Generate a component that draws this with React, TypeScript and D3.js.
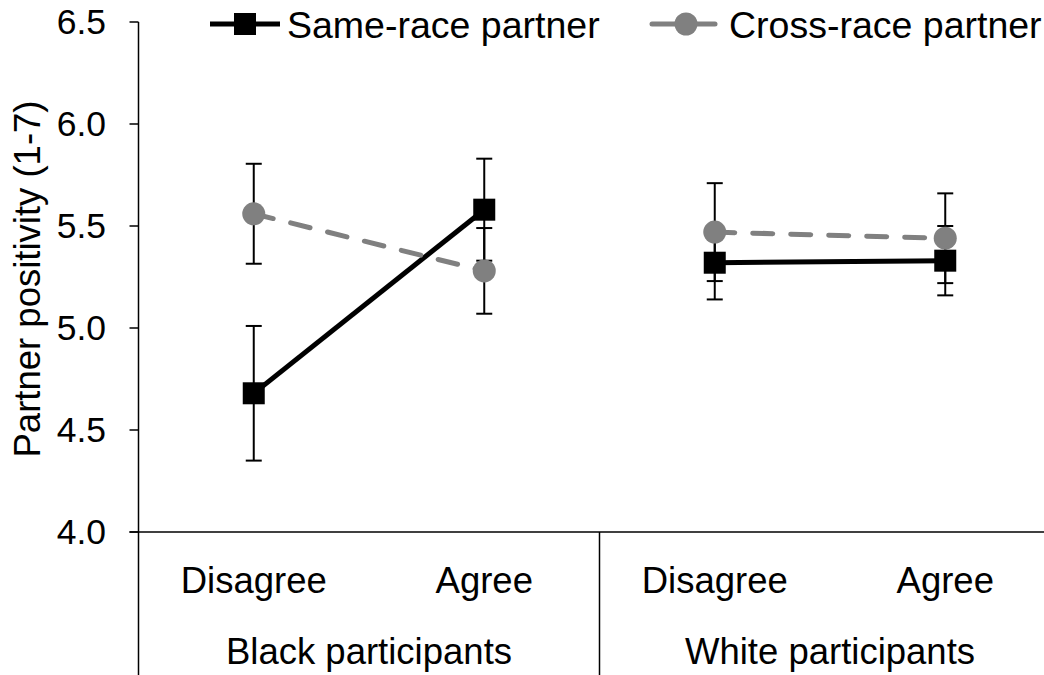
import React from "react";
import * as d3 from "d3";

const categories = ["Disagree", "Agree", "Disagree", "Agree"];
const groups = ["Black participants", "White participants"];
const sameRace = [4.68, 5.58, 5.32, 5.33];
const sameRaceErr = [0.33, 0.25, 0.18, 0.17];
const crossRace = [5.56, 5.28, 5.47, 5.44];
const crossRaceErr = [0.245, 0.21, 0.24, 0.22];
const yTicks = [4.0, 4.5, 5.0, 5.5, 6.0, 6.5];

const W = 1044;
const H = 675;
const FONT = "Liberation Sans, Arial, sans-serif";

export default function App() {
  const axisX = 138.5;
  const band = 230.5;
  const y = d3.scaleLinear().domain([4, 6.5]).range([532, 22]);
  const x = d3
    .scaleBand<number>()
    .domain(categories.map((_, i) => i))
    .range([axisX, axisX + band * categories.length])
    .padding(0);
  const cx = (i: number) => (x(i) as number) + x.bandwidth() / 2;

  const seg = (vals: number[], g: number) => {
    const idx = [g * 2, g * 2 + 1];
    return d3
      .line<number>()
      .x((i) => cx(i))
      .y((i) => y(vals[i]))(idx) as string;
  };

  const errBars = (vals: number[], errs: number[], key: string) =>
    vals.map((v, i) => (
      <g key={key + i} stroke="#000" strokeWidth={2}>
        <line x1={cx(i)} x2={cx(i)} y1={y(v + errs[i])} y2={y(v - errs[i])} />
        <line x1={cx(i) - 8} x2={cx(i) + 8} y1={y(v + errs[i])} y2={y(v + errs[i])} />
        <line x1={cx(i) - 8} x2={cx(i) + 8} y1={y(v - errs[i])} y2={y(v - errs[i])} />
      </g>
    ));

  const gray = "#808080";
  const sq = 22;

  return (
    <svg
      width={W}
      height={H}
      style={{ position: "absolute", left: 0, top: 0, background: "#fff" }}
      fontFamily={FONT}
    >
      {/* y axis */}
      <line x1={axisX} x2={axisX} y1={y(6.5)} y2={H} stroke="#000" strokeWidth={1.5} />
      {yTicks.map((t) => (
        <g key={t}>
          <line x1={axisX - 9} x2={axisX} y1={y(t)} y2={y(t)} stroke="#000" strokeWidth={1.5} />
          <text
            x={106}
            y={y(t)}
            textAnchor="end"
            dominantBaseline="central"
            fontSize={35.5}
            fill="#000"
          >
            {t.toFixed(1)}
          </text>
        </g>
      ))}
      {/* x axis */}
      <line x1={axisX - 9} x2={W} y1={y(4)} y2={y(4)} stroke="#000" strokeWidth={1.5} />
      {groups.map((g, gi) => {
        const x0 = x(gi * 2) as number;
        const x1 = (x(gi * 2 + 1) as number) + x.bandwidth();
        return (
          <g key={g}>
            {gi > 0 && (
              <line x1={x0} x2={x0} y1={y(4)} y2={H} stroke="#000" strokeWidth={1.5} />
            )}
            <text x={(x0 + x1) / 2} y={664} textAnchor="middle" fontSize={36.5} fill="#000">
              {g}
            </text>
          </g>
        );
      })}
      {categories.map((c, i) => (
        <text key={i} x={cx(i)} y={593} textAnchor="middle" fontSize={36.5} fill="#000">
          {c}
        </text>
      ))}
      <text
        transform={`translate(40, ${(y(4) + y(6.5)) / 2 + 2}) rotate(-90)`}
        textAnchor="middle"
        fontSize={36.5}
        fill="#000"
      >
        Partner positivity (1-7)
      </text>

      {/* error bars */}
      {errBars(sameRace, sameRaceErr, "s")}
      {errBars(crossRace, crossRaceErr, "c")}

      {/* lines */}
      {groups.map((g, gi) => (
        <path key={"sl" + gi} d={seg(sameRace, gi)} fill="none" stroke="#000" strokeWidth={5} />
      ))}
      {groups.map((g, gi) => (
        <path
          key={"cl" + gi}
          d={seg(crossRace, gi)}
          fill="none"
          stroke={gray}
          strokeWidth={5}
          strokeDasharray="20,18"
          strokeLinecap="round"
        />
      ))}

      {/* markers */}
      {sameRace.map((v, i) => (
        <rect key={"sm" + i} x={cx(i) - sq / 2} y={y(v) - sq / 2} width={sq} height={sq} fill="#000" />
      ))}
      {crossRace.map((v, i) => (
        <circle key={"cm" + i} cx={cx(i)} cy={y(v)} r={11.5} fill={gray} />
      ))}

      {/* legend */}
      <g>
        <line x1={210} x2={280} y1={24} y2={24} stroke="#000" strokeWidth={5} />
        <rect x={245 - sq / 2} y={24 - sq / 2} width={sq} height={sq} fill="#000" />
        <text x={287} y={25} dominantBaseline="central" fontSize={37.5} fill="#000">
          Same-race partner
        </text>
        <line x1={652} x2={715} y1={24} y2={24} stroke={gray} strokeWidth={5} strokeLinecap="round" />
        <circle cx={686} cy={24} r={11.5} fill={gray} />
        <text x={729} y={25} dominantBaseline="central" fontSize={37.5} fill="#000">
          Cross-race partner
        </text>
      </g>
    </svg>
  );
}
